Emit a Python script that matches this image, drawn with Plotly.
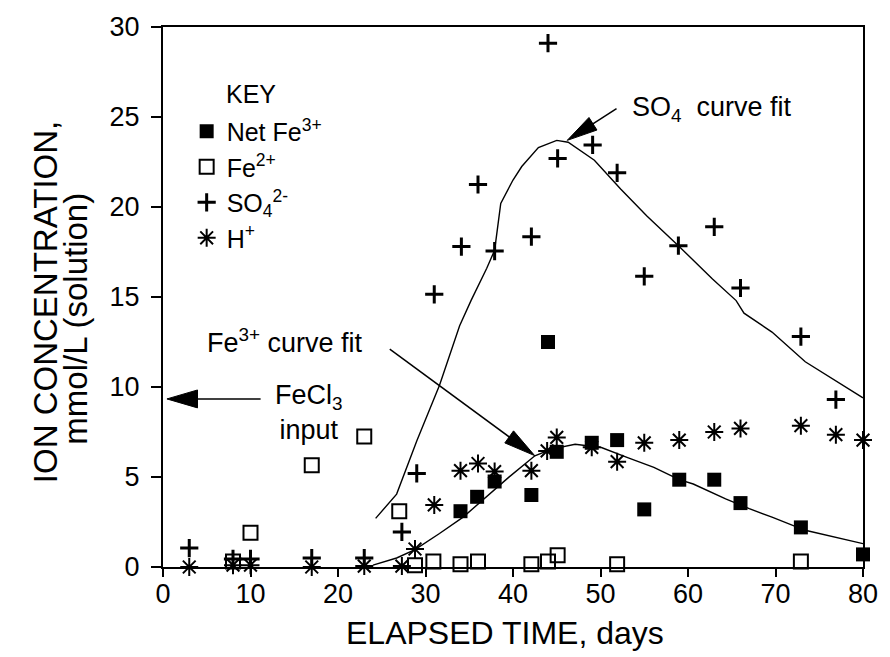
import math
import plotly.graph_objects as go

# ---------------- data ----------------
fe3_x = [34.0, 35.9, 37.9, 42.1, 44.0, 45.0, 49.0, 51.9, 55.0, 59.0, 63.0, 66.0, 72.9, 80.0]
fe3_y = [3.1, 3.9, 4.75, 4.0, 12.5, 6.4, 6.9, 7.05, 3.2, 4.85, 4.85, 3.55, 2.2, 0.7]

fe2_x = [8.0, 10.0, 17.0, 23.0, 27.0, 28.8, 30.9, 34.0, 36.0, 42.1, 44.0, 45.1, 51.9, 72.9]
fe2_y = [0.3, 1.9, 5.65, 7.25, 3.1, 0.1, 0.3, 0.15, 0.3, 0.15, 0.3, 0.65, 0.15, 0.3]

so4_x = [3.0, 8.0, 10.0, 17.0, 23.0, 27.3, 29.0, 31.0, 34.1, 36.0, 37.9, 42.1, 44.0, 45.1,
         49.1, 51.9, 55.0, 58.9, 63.0, 66.0, 72.9, 76.9]
so4_y = [1.05, 0.45, 0.45, 0.5, 0.5, 1.95, 5.2, 15.15, 17.8, 21.25, 17.55, 18.35, 29.1, 22.7,
         23.45, 21.9, 16.15, 17.85, 18.9, 15.5, 12.8, 9.3]

h_x = [3.0, 8.0, 10.0, 17.0, 23.0, 27.3, 28.8, 31.0, 34.0, 36.0, 37.9, 42.1, 43.9, 45.0,
       49.0, 51.9, 55.0, 59.0, 63.0, 66.0, 72.9, 76.9, 80.0]
h_y = [0.0, 0.1, 0.1, 0.0, 0.05, 0.05, 1.0, 3.45, 5.35, 5.75, 5.3, 5.35, 6.45, 7.2,
       6.65, 5.85, 6.9, 7.05, 7.5, 7.7, 7.85, 7.35, 7.05]

so4_fit_x = [24.3, 26.7, 29.0, 31.6, 33.9, 35.2, 37.0, 37.9, 38.6, 40.0, 41.0, 42.9, 45.0, 46.3,
             49.3, 52.3, 55.3, 58.9, 62.8, 65.5, 66.4, 69.6, 73.4, 76.4, 80.0]
so4_fit_y = [2.7, 4.05, 7.0, 10.1, 13.4, 14.8, 16.6, 17.6, 20.2, 21.5, 22.25, 23.3, 23.7, 23.6,
             22.6, 21.0, 19.5, 17.85, 16.0, 14.8, 14.1, 13.05, 11.4, 10.5, 9.4]

fe3_fit_x = [24.0, 26.7, 28.8, 31.6, 34.3, 36.9, 39.5, 42.5, 44.4, 47.1, 50.1, 53.1, 56.1, 59.0,
             60.6, 64.3, 67.0, 69.6, 73.4, 80.0]
fe3_fit_y = [0.1, 0.5, 0.97, 1.86, 2.77, 3.88, 4.98, 6.18, 6.55, 6.82, 6.64, 6.08, 5.53, 4.85,
             4.61, 3.79, 3.24, 2.77, 2.04, 1.3]

x_ticks = [0, 10, 20, 30, 40, 50, 60, 70, 80]
y_ticks = [0, 5, 10, 15, 20, 25, 30]

# ---------------- layout geometry ----------------
W, H = 890, 657
ML, MR, MT, MB = 163, 17, 24, 90
PW, PH = W - ML - MR, H - MT - MB
FONT = "Liberation Sans, Arial, Helvetica, sans-serif"


def px(x):
    return (x - ML) / PW


def py(y):
    return (H - MB - y) / PH


fig = go.Figure()

mk_common = dict(mode="markers", cliponaxis=False)
fig.add_trace(go.Scatter(x=fe3_x, y=fe3_y, name="Net Fe<sup>3+</sup>",
                         marker=dict(symbol="square", size=14, color="black"), **mk_common))
fig.add_trace(go.Scatter(x=fe2_x, y=fe2_y, name="Fe<sup>2+</sup>",
                         marker=dict(symbol="square-open", size=14, color="black",
                                     line=dict(width=2, color="black")), **mk_common))
fig.add_trace(go.Scatter(x=so4_x, y=so4_y, name="SO<sub>4</sub><sup>2-</sup>",
                         marker=dict(symbol="cross-thin-open", size=13, color="black",
                                     line=dict(width=3, color="black")), **mk_common))
fig.add_trace(go.Scatter(x=h_x, y=h_y, name="H<sup>+</sup>",
                         marker=dict(symbol="asterisk-open", size=15, color="black",
                                     line=dict(width=2, color="black")), **mk_common))

fig.add_trace(go.Scatter(x=so4_fit_x, y=so4_fit_y, mode="lines", showlegend=False,
                         line=dict(color="black", width=1.4)))
fig.add_trace(go.Scatter(x=fe3_fit_x, y=fe3_fit_y, mode="lines", showlegend=False,
                         line=dict(color="black", width=1.4)))

# ---------------- arrows (shaft + filled head) ----------------
shapes = []


def arrow(tail, tip, hlen, hwid):
    tx, ty = tail
    hx, hy = tip
    d = math.hypot(hx - tx, hy - ty)
    ux, uy = (hx - tx) / d, (hy - ty) / d
    bx, by = hx - ux * hlen, hy - uy * hlen
    nx, ny = -uy, ux
    c1 = (bx + nx * hwid / 2, by + ny * hwid / 2)
    c2 = (bx - nx * hwid / 2, by - ny * hwid / 2)
    shapes.append(dict(type="line", xref="paper", yref="paper",
                       x0=px(tx), y0=py(ty), x1=px(bx + ux * 2), y1=py(by + uy * 2),
                       line=dict(color="black", width=1.5)))
    path = "M{},{} L{},{} L{},{} Z".format(px(hx), py(hy), px(c1[0]), py(c1[1]),
                                            px(c2[0]), py(c2[1]))
    shapes.append(dict(type="path", xref="paper", yref="paper", path=path,
                       fillcolor="black", line=dict(color="black", width=1)))


arrow((623, 106), (573, 138), 31, 15)
arrow((393, 348), (540, 455), 32, 15)
arrow((262, 398), (167, 398), 31, 18)

annotations = [
    dict(text="KEY", x=px(225), y=py(91), xanchor="left", yanchor="middle",
         font=dict(size=25)),
    dict(text="SO<sub>4</sub>  curve fit", x=px(637), y=py(106), xanchor="left",
         yanchor="middle", font=dict(size=27)),
    dict(text="Fe<sup>3+</sup> curve fit", x=px(206), y=py(340), xanchor="left",
         yanchor="middle", font=dict(size=27)),
    dict(text="FeCl<sub>3</sub><br>input", x=px(311), y=py(412), xanchor="center",
         yanchor="middle", align="center", font=dict(size=27)),
    dict(text="ION CONCENTRATION,", x=px(44), y=py(301), textangle=-90,
         xanchor="center", yanchor="middle", font=dict(size=33)),
    dict(text="mmol/L (solution)", x=px(74), y=py(317), textangle=-90,
         xanchor="center", yanchor="middle", font=dict(size=33)),
    dict(text="ELAPSED TIME, days", x=px(510), y=py(633), xanchor="center",
         yanchor="middle", font=dict(size=32)),
]
for a in annotations:
    a.update(xref="paper", yref="paper", showarrow=False)
    a["font"].update(color="black", family=FONT)

axis_common = dict(showgrid=False, zeroline=False, showline=True, linecolor="black",
                   linewidth=2, mirror=True, ticks="outside", tickcolor="black",
                   tickwidth=1.5, tickfont=dict(size=27, color="black", family=FONT))

fig.update_layout(
    width=W, height=H,
    margin=dict(l=ML, r=MR, t=MT, b=MB),
    paper_bgcolor="white", plot_bgcolor="white",
    font=dict(family=FONT, color="black"),
    xaxis=dict(range=[0, 80], tickvals=x_ticks, ticklen=8, ticklabelstandoff=-6,
               **axis_common),
    yaxis=dict(range=[0, 30], tickvals=y_ticks, ticklen=10, ticklabelstandoff=6,
               **axis_common),
    legend=dict(x=px(187), y=py(106), xanchor="left", yanchor="top",
                bgcolor="rgba(0,0,0,0)", font=dict(size=25, color="black", family=FONT),
                itemwidth=30, tracegroupgap=0),
    shapes=shapes,
    annotations=annotations,
)

fig.write_html("out.html")
